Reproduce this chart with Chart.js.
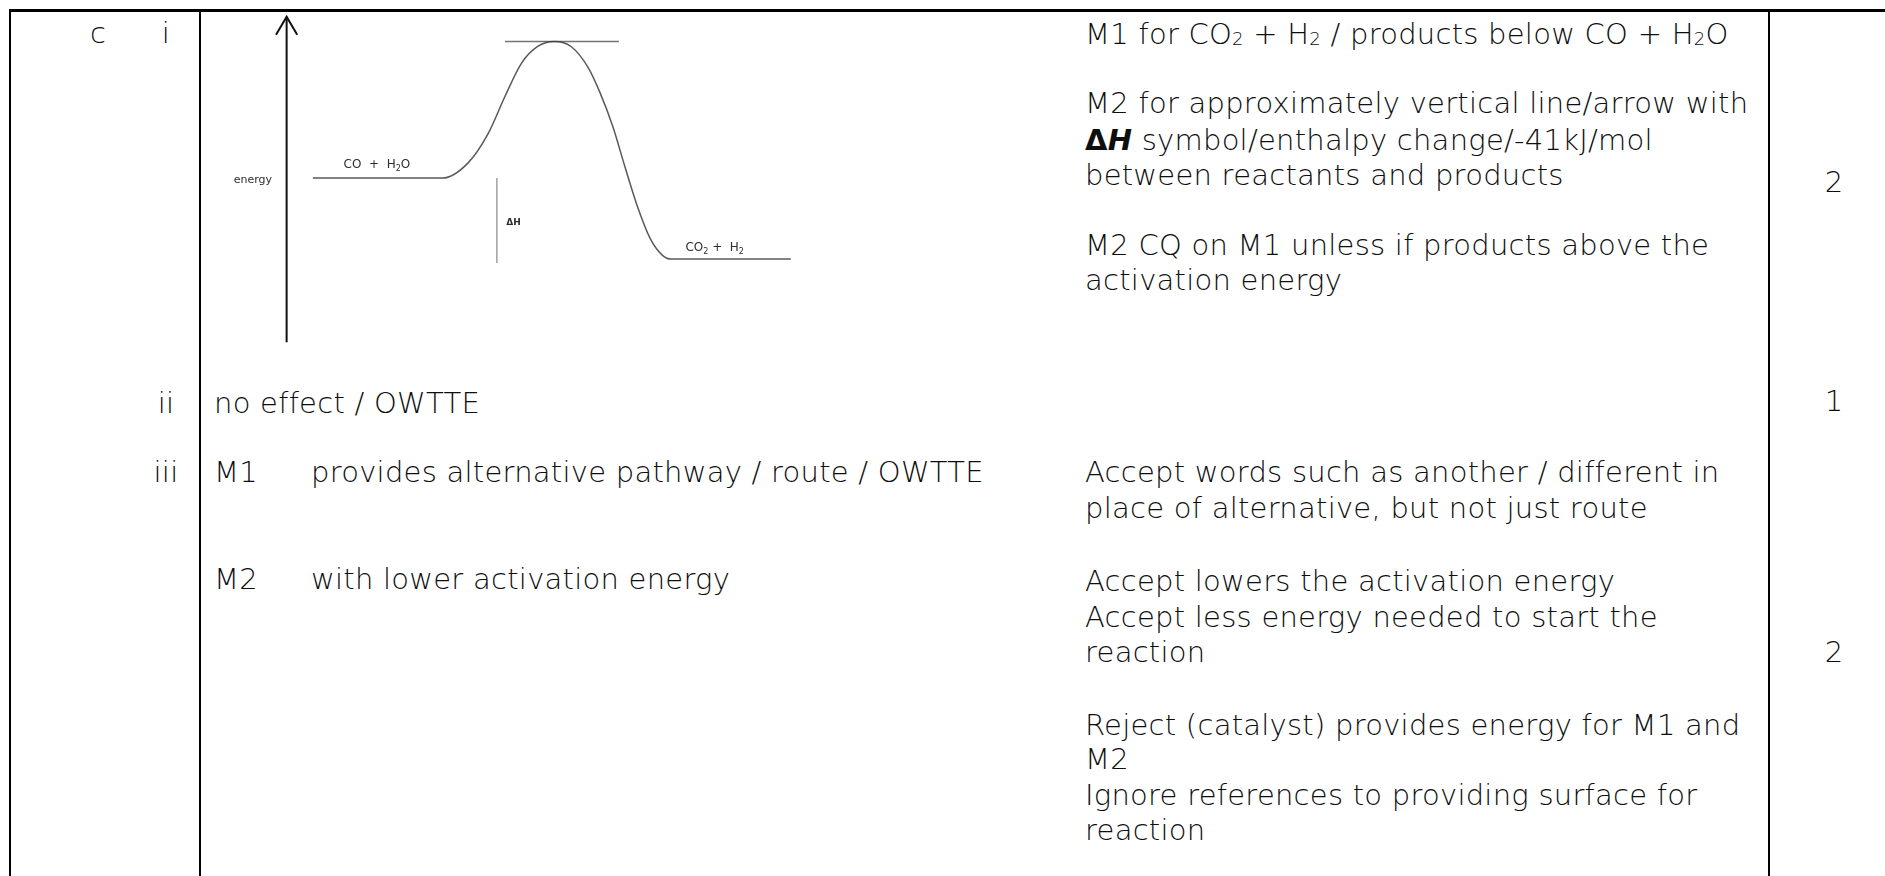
<!DOCTYPE html>
<html>
<head>
<meta charset="utf-8">
<script src="https://cdn.jsdelivr.net/npm/chart.js@4.4.1/dist/chart.umd.min.js"></script>
<style>
  html, body { margin: 0; padding: 0; background: #fff; }
  body { width: 1885px; height: 876px; position: relative; overflow: hidden;
         font-family: "DejaVu Sans", sans-serif; font-weight: 200; color: #0e0e0e; }
  .rule { position: absolute; background: #000; z-index: 3; }
  .t { position: absolute; font-size: 29px; line-height: 35px; letter-spacing: 0.25px; white-space: nowrap; z-index: 2; }
  .t sub { font-size: 0.62em; vertical-align: -0.04em; line-height: 0; }
  .c { text-align: center; width: 40px; }
  #energyChart { position: absolute; left: 211px; top: 0; z-index: 1; }
</style>
</head>
<body>
<canvas id="energyChart" width="605" height="356"></canvas>
<div id="sheet"></div>
<script>
// energy profile: reaction progress (0 = energy axis) vs energy (kJ/mol, reactants = 100)
const progress = [5.2, 30.9, 35.9, 40.0, 43.3, 46.6, 49.8, 53.1, 56.4, 59.7, 62.2, 64.7, 67.1, 69.6, 72.1, 74.5, 76.2, 100];
const energy = [100, 100, 107.4, 122.6, 141.2, 158.1, 166.5, 169.0, 166.5, 156.3, 142.9, 126.0, 105.7, 85.5, 69.5, 61.0, 59, 59];
const peakLine = { from: 43.3, to: 65.9, level: 169 };
const deltaH = { at: 41.7, top: 100, bottom: 57 };
const energyAxis = { at: 0, bottom: 17, top: 181.5, headBase: 172.4, headHalf: 2.1 };
const diagramLabels = [
    { parts: [['energy', 0]], x: -6.7, y: 99, size: 11 },
    { parts: [['CO  +  H', 0], ['2', 1], ['O', 0]], x: 17.9, y: 106.6, size: 12 },
    { parts: [['CO', 0], ['2', 1], [' +  H', 0], ['2', 1]], x: 84.9, y: 64.6, size: 12 },
    { parts: [['\u0394H', 0]], x: 45.0, y: 77.2, size: 9, bold: true }
];

// mark scheme text
const partLabels = [['c', 98, 43], ['i', 166, 43], ['ii', 166, 413], ['iii', 166, 482]];
const answerLines = [
    [214, 413, 'no effect / OWTTE'],
    [214, 482, 'M1'], [311, 482, 'provides alternative pathway / route / OWTTE'],
    [214, 589, 'M2'], [311, 589, 'with lower activation energy']
];
const guidanceLines = [
    [44, 'M1 for CO<sub>2</sub> + H<sub>2</sub> / products below CO + H<sub>2</sub>O'],
    [113, 'M2 for approximately vertical line/arrow with'],
    [150, '<b style="font-weight:700">\u0394<i>H</i></b> symbol/enthalpy change/-41kJ/mol'],
    [185, 'between reactants and products'],
    [255, 'M2 CQ on M1 unless if products above the'],
    [290, 'activation energy'],
    [482, 'Accept words such as another / different in'],
    [518, 'place of alternative, but not just route'],
    [591, 'Accept lowers the activation energy'],
    [627, 'Accept less energy needed to start the'],
    [662, 'reaction'],
    [735, 'Reject (catalyst) provides energy for M1 and'],
    [769, 'M2'],
    [805, 'Ignore references to providing surface for'],
    [840, 'reaction']
];
const marks = [['2', 192], ['1', 411], ['2', 662]];

const sheet = document.getElementById('sheet');
const BASE = 27.5; // baseline offset inside a 35px line box

function addText(x, baseline, html, centered) {
    const d = document.createElement('div');
    d.className = 't' + (centered ? ' c' : '');
    d.style.left = (centered ? x - 20 : x) + 'px';
    d.style.top = (baseline - BASE) + 'px';
    d.innerHTML = html;
    sheet.appendChild(d);
}
function addRule(l, t, w, h) {
    const d = document.createElement('div');
    d.className = 'rule';
    d.style.left = l + 'px'; d.style.top = t + 'px';
    d.style.width = w + 'px'; d.style.height = h + 'px';
    sheet.appendChild(d);
}

addRule(9, 9, 1876, 3);
addRule(9, 9, 2, 867);
addRule(199, 9, 2, 867);
addRule(1768, 9, 2, 867);

partLabels.forEach(p => addText(p[1], p[2], p[0], true));
answerLines.forEach(a => addText(a[0], a[1], a[2]));
guidanceLines.forEach(g => addText(1085, g[0], g[1]));
marks.forEach(m => addText(1834, m[1], m[0], true));

// labels inside the diagram, placed through the chart scales
const labelPlugin = {
    id: 'diagramLabels',
    afterDatasetsDraw(chart) {
        const ctx = chart.ctx;
        const xs = chart.scales.x, ys = chart.scales.y;
        ctx.save();
        ctx.fillStyle = '#2e2e2e';
        ctx.textBaseline = 'middle';
        diagramLabels.forEach(lab => {
            const main = (lab.bold ? 'bold ' : '') + lab.size + 'px "DejaVu Sans"';
            const small = Math.round(lab.size * 0.65) + 'px "DejaVu Sans"';
            let total = 0;
            lab.parts.forEach(p => { ctx.font = p[1] ? small : main; total += ctx.measureText(p[0]).width; });
            let px = xs.getPixelForValue(lab.x) - total / 2;
            const py = ys.getPixelForValue(lab.y);
            lab.parts.forEach(p => {
                ctx.font = p[1] ? small : main;
                ctx.fillText(p[0], px, p[1] ? py + lab.size * 0.3 : py);
                px += ctx.measureText(p[0]).width;
            });
        });
        ctx.restore();
    }
};

const curve = progress.map((p, i) => ({ x: p, y: energy[i] }));

new Chart(document.getElementById('energyChart').getContext('2d'), {
    type: 'line',
    data: {
        datasets: [
            { data: curve, borderColor: 'rgba(60,60,60,0.85)', borderWidth: 1.5, cubicInterpolationMode: 'monotone' },
            { data: [{ x: peakLine.from, y: peakLine.level }, { x: peakLine.to, y: peakLine.level }],
              borderColor: 'rgba(80,80,80,0.8)', borderWidth: 1.5 },
            { data: [{ x: deltaH.at, y: deltaH.top }, { x: deltaH.at, y: deltaH.bottom }],
              borderColor: 'rgba(120,120,120,0.7)', borderWidth: 1.5 },
            { data: [{ x: energyAxis.at, y: energyAxis.bottom }, { x: energyAxis.at, y: energyAxis.top }],
              borderColor: '#111', borderWidth: 2 },
            { data: [{ x: energyAxis.at - energyAxis.headHalf, y: energyAxis.headBase },
                     { x: energyAxis.at, y: energyAxis.top },
                     { x: energyAxis.at + energyAxis.headHalf, y: energyAxis.headBase }],
              borderColor: '#111', borderWidth: 2 }
        ]
    },
    options: {
        responsive: false,
        animation: false,
        devicePixelRatio: 1,
        layout: { padding: 0 },
        elements: { point: { radius: 0 }, line: { tension: 0, fill: false } },
        scales: {
            x: { type: 'linear', min: -15, max: 105, display: false },
            y: { type: 'linear', min: 10, max: 190, display: false }
        },
        plugins: { legend: { display: false }, tooltip: { enabled: false } }
    },
    plugins: [labelPlugin]
});
</script>
</body>
</html>
